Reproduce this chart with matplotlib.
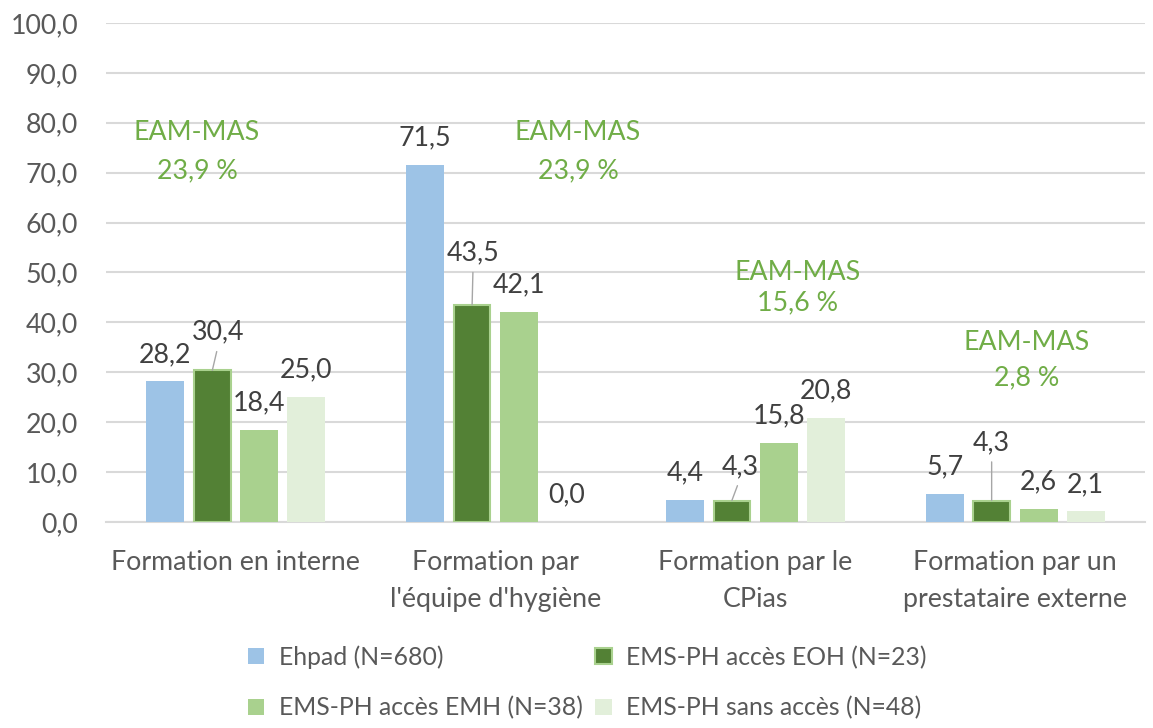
import numpy as np
import matplotlib.pyplot as plt
from matplotlib.patches import Patch

plt.rcParams['font.family'] = ['Lato', 'DejaVu Sans']

categories = ["Formation en interne", "Formation par\nl'équipe d'hygiène",
              "Formation par le\nCPias", "Formation par un\nprestataire externe"]
series = ["Ehpad (N=680)", "EMS-PH accès EOH (N=23)",
          "EMS-PH accès EMH (N=38)", "EMS-PH sans accès (N=48)"]
ehpad = [28.2, 71.5, 4.4, 5.7]
eoh = [30.4, 43.5, 4.3, 4.3]
emh = [18.4, 42.1, 15.8, 2.6]
sans = [25.0, 0.0, 20.8, 2.1]
eam_mas = ["23,9 %", "23,9 %", "15,6 %", "2,8 %"]

colors = ['#9dc3e6', '#538135', '#a9d18e', '#e2efda']
values = [ehpad, eoh, emh, sans]
FS = 19.3

fig = plt.figure(figsize=(11.53, 7.28), dpi=100)
ax = fig.add_axes([0.0919, 0.2830, 0.9012, 0.6854])

x = np.arange(len(categories))
width = 0.146
step = 0.181
offsets = (np.arange(4) - 1.5) * step

for i, vals in enumerate(values):
    if i == 1:
        ax.bar(x + offsets[i], vals, width - 0.006, color=colors[i],
               edgecolor='#a9d18e', linewidth=1.5, zorder=3)
    else:
        ax.bar(x + offsets[i], vals, width, color=colors[i], zorder=3)

def fmt(v):
    return f"{v:.1f}".replace('.', ',')

# label offsets in points (dx, dy); EOH labels use leader lines
lead = {0: (4.3, 27.4), 1: (0.7, 37.4), 2: (5.8, 24.5), 3: (0, 41.8)}
for i, vals in enumerate(values):
    for j, v in enumerate(vals):
        xc = x[j] + offsets[i]
        if i == 1:
            dx, dy = lead[j]
            ax.annotate(fmt(v), (xc, v), xytext=(dx, dy), textcoords='offset points',
                        ha='center', va='center', fontsize=FS, color='#404040',
                        arrowprops=dict(arrowstyle='-', color='#a6a6a6', lw=1,
                                        relpos=(0.5, 0), shrinkA=3, shrinkB=0))
        else:
            ax.annotate(fmt(v), (xc, v), xytext=(0, 19.4), textcoords='offset points',
                        ha='center', va='center', fontsize=FS, color='#404040')

# EAM-MAS notes
note_x = [-0.15, 1.317, 2.164, 3.046]
note_y1 = [78, 78, 50, 36]
note_y2 = [70.4, 70.4, 44, 28.8]
for j in range(4):
    ax.text(note_x[j], note_y1[j], "EAM-MAS", ha='center', va='center',
            fontsize=FS, color='#70ad47')
    ax.text(note_x[j], note_y2[j], eam_mas[j], ha='center', va='center',
            fontsize=FS, color='#70ad47')

ax.set_xlim(-0.5, 3.5)
ax.set_ylim(0, 100)
ax.set_yticks(np.arange(0, 101, 10))
ax.set_yticklabels([fmt(t) for t in np.arange(0, 101, 10)])
ax.set_xticks(x)
ax.set_xticklabels(categories, linespacing=1.6)
ax.tick_params(axis='y', length=0, pad=20, labelsize=FS, labelcolor='#595959')
ax.tick_params(axis='x', length=0, pad=20, labelsize=FS, labelcolor='#595959')
ax.grid(axis='y', color='#d9d9d9', linewidth=1.5, zorder=0)
ax.set_axisbelow(True)
for s in ['top', 'right', 'left']:
    ax.spines[s].set_visible(False)
ax.spines['bottom'].set_color('#d9d9d9')
ax.spines['bottom'].set_linewidth(1.5)

handles = [Patch(facecolor=colors[0]),
           Patch(facecolor=colors[2]),
           Patch(facecolor=colors[1], edgecolor='#a9d18e', linewidth=1.5),
           Patch(facecolor=colors[3])]
labels = [series[0], series[2], series[1], series[3]]
fig.legend(handles, labels, ncol=2, loc='center', bbox_to_anchor=(0.5096, 0.0625),
           frameon=False, fontsize=17.8, labelcolor='#595959',
           handlelength=0.65, handleheight=0.65, handletextpad=0.6,
           columnspacing=0.5, labelspacing=1.12)

fig.savefig('out.png', dpi=100)
